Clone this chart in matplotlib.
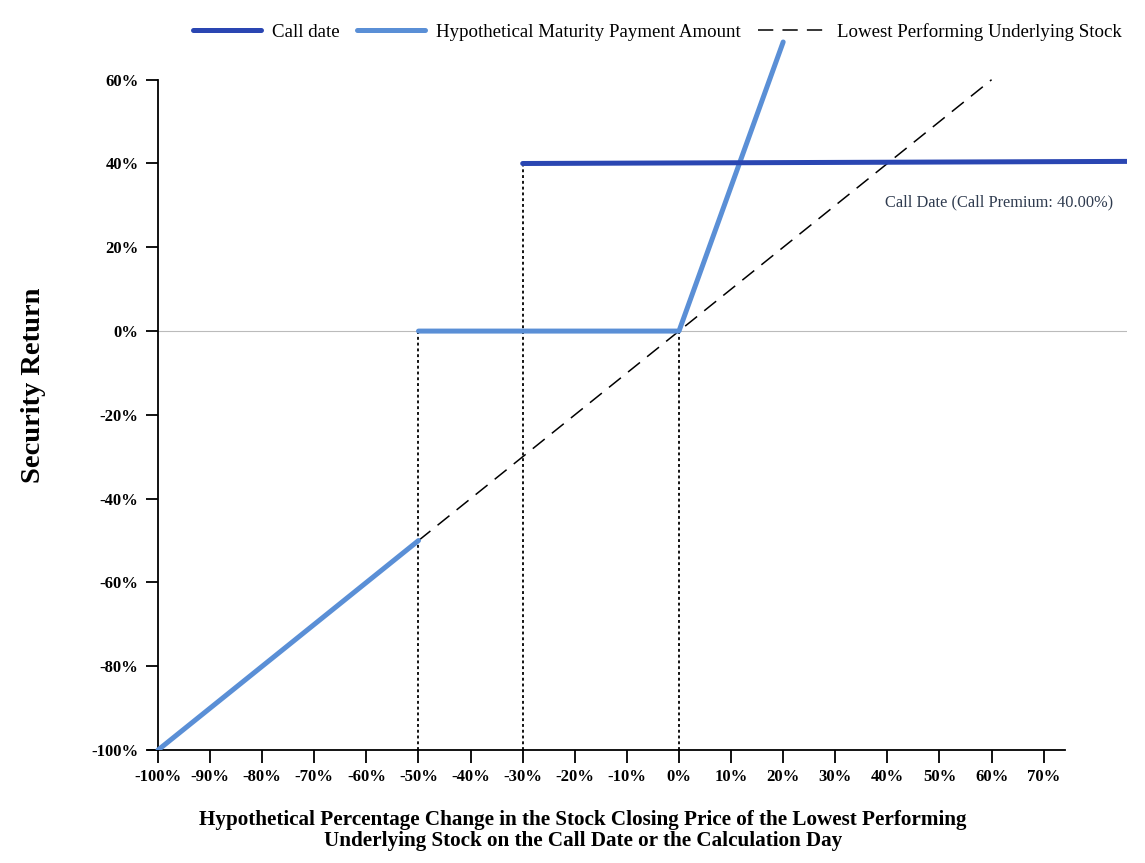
import matplotlib
matplotlib.use('Agg')
import matplotlib.pyplot as plt
from matplotlib.ticker import FixedLocator
import numpy as np

# stock change (%) and security return (%)
stock_x = [-50, 60]
stock_y = [-50, 60]

payment_x = [-100, -50, np.nan, -50, 0, 20]
payment_y = [-100, -50, np.nan, 0, 0, 69]

call_x = [-30, 86]
call_y = [40, 40.5]

# dotted drop lines: (x, top y)
drop_x = [-50, -30, 0]
drop_top = [0, 40, 0]

x_ticks = list(range(-100, 71, 10))
y_ticks = list(range(-100, 61, 20))

call_color = '#2a46b2'
payment_color = '#5a8fd6'
serif = 'Liberation Serif'

fig = plt.figure(figsize=(11.45, 8.63), dpi=100)
ax = fig.add_axes([0.1289, 0.1309, 0.8554, 0.835])

ax.set_xlim(-102, 86)
ax.set_ylim(-100, 72)

# zero reference line
ax.axhline(0, xmin=(-100 + 102) / 188, color='#bbbbbb', lw=0.8, zorder=1)

for x, top in zip(drop_x, drop_top):
    ax.plot([x, x], [-100, top], color='black', lw=1.3,
            linestyle=(0, (1.6, 1.6)), zorder=2)

ax.plot(stock_x, stock_y, color='black', lw=1.1, linestyle=(0, (10, 6)),
        label='Lowest Performing Underlying Stock', zorder=3)
ax.plot(payment_x, payment_y, color=payment_color, lw=3.6,
        solid_capstyle='round', label='Hypothetical Maturity Payment Amount',
        zorder=4)
ax.plot(call_x, call_y, color=call_color, lw=3.6, solid_capstyle='round',
        label='Call date', zorder=5)

ax.text(61.5, 30.7, 'Call Date (Call Premium: 40.00%)', color='#2f3b4f',
        fontsize=11.8, family=serif, ha='center', va='center')

for side in ['top', 'right']:
    ax.spines[side].set_visible(False)
ax.spines['left'].set_position(('data', -100))
ax.spines['left'].set_bounds(-100, 60)
ax.spines['bottom'].set_bounds(-102, 74)
for side in ['left', 'bottom']:
    ax.spines[side].set_linewidth(1.3)

ax.xaxis.set_major_locator(FixedLocator(x_ticks))
ax.yaxis.set_major_locator(FixedLocator(y_ticks))
ax.set_xticklabels([f'{v}%' for v in x_ticks])
ax.set_yticklabels([f'{v}%' for v in y_ticks])
ax.tick_params(axis='both', direction='out', length=9, width=1.3, pad=5)
for lab in ax.get_xticklabels() + ax.get_yticklabels():
    lab.set_fontfamily(serif)
    lab.set_fontweight('bold')
    lab.set_fontsize(12)

fig.text(0.029, 0.554, 'Security Return', rotation=90, ha='center',
         va='center', fontsize=20.5, fontweight='bold', family=serif)
fig.text(0.509, 0.038,
         'Hypothetical Percentage Change in the Stock Closing Price of the Lowest Performing\n'
         'Underlying Stock on the Call Date or the Calculation Day',
         ha='center', va='center', fontsize=15.2, fontweight='bold',
         family=serif, linespacing=1.05)

handles, labels = ax.get_legend_handles_labels()
order = [2, 1, 0]
fig.legend([handles[i] for i in order], [labels[i] for i in order],
           loc='center', bbox_to_anchor=(0.574, 0.963), ncol=3, frameon=False,
           prop={'family': serif, 'size': 13.6}, handlelength=3.6,
           handletextpad=0.6, columnspacing=0.9)

fig.savefig('out.png', dpi=100)
